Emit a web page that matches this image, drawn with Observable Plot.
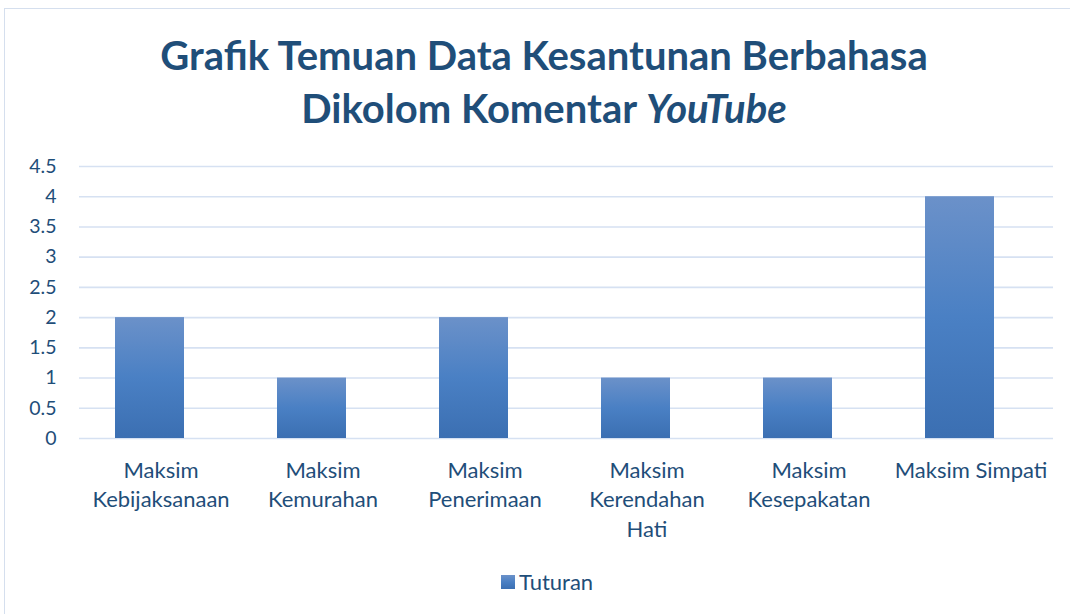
<!DOCTYPE html>
<html>
<head>
<meta charset="utf-8">
<script src="https://cdn.jsdelivr.net/npm/d3@7"></script>
<script src="https://cdn.jsdelivr.net/npm/@observablehq/plot@0.6"></script>
<style>
  html, body { margin: 0; padding: 0; background: #fff; }
  #wrap { position: relative; width: 1070px; height: 614px; overflow: hidden; font-family: Lato, "Open Sans", sans-serif; }
  #frame { position: absolute; left: 4px; top: 8px; width: 1100px; height: 700px; border: 1px solid #D5DFEE; box-sizing: border-box; }
  #title { position: absolute; left: 0; top: 29px; width: 1088px; text-align: center; font-weight: 700; font-size: 40px; line-height: 53px; color: #1F4E79; }
  #chart { position: absolute; left: 0; top: 150px; }
  #legend { position: absolute; left: 501px; top: 568px; display: flex; align-items: center; font-size: 22px; color: #1F4E79; }
  #legend .sw { width: 14px; height: 14px; margin-right: 4px; background: linear-gradient(#6B91C9, #4A80C4 50%, #3B6FB2); }
</style>
</head>
<body>
<div id="wrap">
  <div id="frame"></div>
  <div id="title">Grafik Temuan Data Kesantunan Berbahasa<br>Dikolom Komentar <i>YouTube</i></div>
  <div id="chart"></div>
  <div id="legend"><span class="sw"></span><span>Tuturan</span></div>
</div>
<script>
const categories = ["Maksim Kebijaksanaan", "Maksim Kemurahan", "Maksim Penerimaan", "Maksim Kerendahan Hati", "Maksim Kesepakatan", "Maksim Simpati"];
const tickLabels = ["Maksim\nKebijaksanaan", "Maksim\nKemurahan", "Maksim\nPenerimaan", "Maksim\nKerendahan\nHati", "Maksim\nKesepakatan", "Maksim Simpati"];
const values = [2, 1, 2, 1, 1, 4];
const yTicks = [0, 0.5, 1, 1.5, 2, 2.5, 3, 3.5, 4, 4.5];

const data = categories.map((c, i) => ({category: c, value: values[i]}));
const labelOf = new Map(categories.map((c, i) => [c, tickLabels[i]]));

const defs = () => {
  const ns = "http://www.w3.org/2000/svg";
  const d = document.createElementNS(ns, "defs");
  const g = document.createElementNS(ns, "linearGradient");
  g.setAttribute("id", "barGrad");
  g.setAttribute("x1", "0"); g.setAttribute("y1", "0");
  g.setAttribute("x2", "0"); g.setAttribute("y2", "1");
  [["0%", "#6B91C9"], ["50%", "#4A80C4"], ["100%", "#3B6FB2"]].forEach(([o, c]) => {
    const s = document.createElementNS(ns, "stop");
    s.setAttribute("offset", o); s.setAttribute("stop-color", c);
    g.appendChild(s);
  });
  d.appendChild(g);
  return d;
};

const chart = Plot.plot({
  width: 1070,
  height: 400,
  marginLeft: 79,
  marginRight: 17,
  marginTop: 16,
  marginBottom: 112,
  style: {fontFamily: "Lato, 'Open Sans', sans-serif", color: "#1F4E79", background: "transparent"},
  x: {domain: categories, paddingInner: 0.574, paddingOuter: 0.287, label: null},
  y: {domain: [0, 4.5], label: null},
  marks: [
    defs,
    Plot.ruleY(yTicks, {stroke: "#D6E1F2", strokeWidth: 1.6}),
    Plot.barY(data, {x: "category", y: "value", fill: "url(#barGrad)", dx: -11}),
    Plot.axisY(yTicks, {tickSize: 0, tickPadding: 23, fontSize: 19.5, tickFormat: d => String(d), fill: "#1F4E79", label: null}),
    Plot.axisX({tickSize: 0, tickPadding: 18, fontSize: 22, lineHeight: 1.35, tickFormat: d => labelOf.get(d), fill: "#1F4E79", label: null})
  ]
});
document.getElementById("chart").appendChild(chart);
</script>
</body>
</html>
